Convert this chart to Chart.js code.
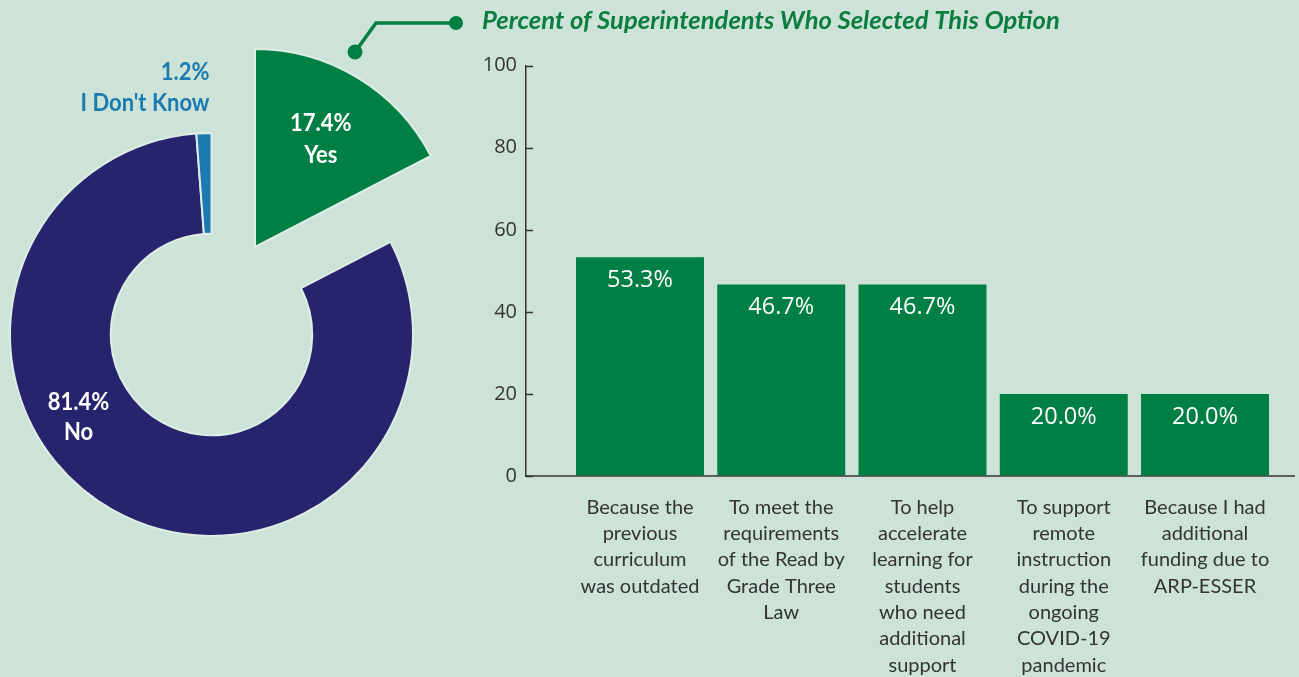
<!DOCTYPE html>
<html>
<head>
<meta charset="utf-8">
<script src="https://cdn.jsdelivr.net/npm/chart.js@4.4.0/dist/chart.umd.min.js"></script>
<style>
  html, body { margin: 0; padding: 0; background: #cde3d8; }
  #wrap { position: relative; width: 1299px; height: 677px; overflow: hidden; }
  canvas { position: absolute; left: 0; top: 0; }
</style>
</head>
<body>
<div id="wrap">
  <canvas id="bars" width="1299" height="677"></canvas>
  <canvas id="ring" width="560" height="677"></canvas>
  <canvas id="wedge" width="560" height="677"></canvas>
</div>
<script>
// survey answers (left) and reasons for the new curriculum (right)
const answers = ["Yes", "No", "I Don't Know"];
const answerShares = [17.4, 81.4, 1.2];

const reasons = [
  ["Because the", "previous", "curriculum", "was outdated"],
  ["To meet the", "requirements", "of the Read by", "Grade Three", "Law"],
  ["To help", "accelerate", "learning for", "students", "who need", "additional", "support"],
  ["To support", "remote", "instruction", "during the", "ongoing", "COVID-19", "pandemic"],
  ["Because I had", "additional", "funding due to", "ARP-ESSER"]
];
const reasonShares = [53.3, 46.7, 46.7, 20.0, 20.0];
const yTicks = [0, 20, 40, 60, 80, 100];

const GREEN = "#007f45";
const NAVY = "#25246c";
const BLUE = "#1b7ab0";
const EDGE = "#deede5";
const INK = "#333333";

const pct = v => v.toFixed(1) + "%";

// writes "value% / name" next to each slice; Lato squeezed a little for a condensed look
function sliceLabels(spots) {
  return {
    id: "sliceLabels",
    afterDatasetsDraw(chart) {
      const ctx = chart.ctx;
      const arcs = chart.getDatasetMeta(0).data;
      const squeeze = 0.88;
      spots.forEach((s, i) => {
        if (!s) return;
        const arc = arcs[i];
        let x, y;
        if (s.mid) {
          const a = (arc.startAngle + arc.endAngle) / 2;
          x = arc.x + Math.cos(a) * arc.outerRadius * s.mid;
          y = arc.y + Math.sin(a) * arc.outerRadius * s.mid;
        } else {
          x = arc.x + s.dx;
          y = arc.y + s.dy;
        }
        ctx.save();
        ctx.translate(x, y);
        ctx.scale(squeeze, 1);
        ctx.font = 'bold 25px "Lato", sans-serif';
        ctx.textBaseline = "middle";
        ctx.fillStyle = s.color;
        ctx.textAlign = s.align;
        ctx.fillText(pct(answerShares[i]), 0, -s.gap / 2);
        ctx.fillText(answers[i], 0, s.gap / 2);
        ctx.restore();
      });
    }
  };
}

// donut with the No and I Don't Know slices
new Chart(document.getElementById("ring"), {
  type: "doughnut",
  data: {
    labels: answers,
    datasets: [{
      data: answerShares,
      backgroundColor: ["rgba(0,0,0,0)", NAVY, BLUE],
      borderColor: EDGE,
      borderWidth: [0, 2, 2]
    }]
  },
  options: {
    responsive: false,
    animation: false,
    radius: 201.5,
    cutout: "50%",
    layout: { padding: { right: 137, bottom: 8 } },
    plugins: { legend: { display: false }, tooltip: { enabled: false } }
  },
  plugins: [sliceLabels([
    null,
    { dx: -133, dy: 82, gap: 30, align: "center", color: "#ffffff" },
    { dx: -2, dy: -247, gap: 31, align: "right", color: BLUE }
  ])]
});

// the Yes slice, pulled out of the ring as a full wedge
new Chart(document.getElementById("wedge"), {
  type: "pie",
  data: {
    labels: answers,
    datasets: [{
      data: answerShares,
      backgroundColor: [GREEN, "rgba(0,0,0,0)", "rgba(0,0,0,0)"],
      borderColor: EDGE,
      borderWidth: [2, 0, 0]
    }]
  },
  options: {
    responsive: false,
    animation: false,
    radius: 198,
    layout: { padding: { right: 50, bottom: 183 } },
    plugins: { legend: { display: false }, tooltip: { enabled: false } }
  },
  plugins: [sliceLabels([
    { mid: 0.64, gap: 32, align: "center", color: "#ffffff" },
    null,
    null
  ])]
});

const barValues = {
  id: "barValues",
  afterDatasetsDraw(chart) {
    const ctx = chart.ctx;
    ctx.save();
    ctx.font = '23.5px "Open Sans", sans-serif';
    ctx.fillStyle = "#ffffff";
    ctx.textAlign = "center";
    ctx.textBaseline = "middle";
    chart.getDatasetMeta(0).data.forEach((bar, i) => {
      ctx.fillText(pct(reasonShares[i]), bar.x, bar.y + 23);
    });
    ctx.restore();
  }
};

// short tick marks pointing into the plot from the y axis
const innerTicks = {
  id: "innerTicks",
  afterDraw(chart) {
    const ctx = chart.ctx;
    const y = chart.scales.y;
    const x0 = chart.chartArea.left;
    ctx.save();
    ctx.strokeStyle = INK;
    ctx.lineWidth = 1.5;
    y.ticks.forEach((t, i) => {
      const py = Math.round(y.getPixelForTick(i)) + 0.5;
      ctx.beginPath();
      ctx.moveTo(x0, py);
      ctx.lineTo(x0 + 7, py);
      ctx.stroke();
    });
    ctx.restore();
  }
};

// callout line from the Yes wedge up to the bar chart heading
const callout = {
  id: "callout",
  afterDraw(chart) {
    const ctx = chart.ctx;
    ctx.save();
    ctx.strokeStyle = GREEN;
    ctx.fillStyle = GREEN;
    ctx.lineWidth = 3.5;
    ctx.beginPath();
    ctx.moveTo(355, 52);
    ctx.lineTo(376, 23);
    ctx.lineTo(456, 23);
    ctx.stroke();
    ctx.beginPath();
    ctx.arc(355, 52, 7.5, 0, Math.PI * 2);
    ctx.arc(456, 23, 7, 0, Math.PI * 2);
    ctx.fill();
    ctx.restore();
  }
};

new Chart(document.getElementById("bars"), {
  type: "bar",
  data: {
    datasets: [{
      data: reasonShares.map((v, i) => ({ x: i + 1, y: v })),
      backgroundColor: GREEN,
      categoryPercentage: 1,
      barPercentage: 0.906
    }]
  },
  options: {
    responsive: false,
    animation: false,
    layout: { padding: { left: 482, right: 5 } },
    scales: {
      x: {
        type: "linear",
        offset: false,
        min: 0.193,
        max: 5.63,
        grid: { display: false },
        border: { color: "#5f5f5f", width: 2 },
        ticks: {
          stepSize: 1,
          includeBounds: false,
          autoSkip: false,
          maxRotation: 0,
          padding: 10,
          color: INK,
          font: { family: "Lato", size: 20, lineHeight: 1.317 },
          callback: v => Number.isInteger(v) ? reasons[v - 1] : ""
        },
        afterFit: s => { s.height = 201; }
      },
      y: {
        min: yTicks[0],
        max: yTicks[yTicks.length - 1],
        grid: { drawOnChartArea: false, drawTicks: false },
        border: { color: INK, width: 1.5 },
        ticks: {
          stepSize: yTicks[1] - yTicks[0],
          padding: 9,
          color: INK,
          font: { family: "Open Sans", size: 20 }
        },
        afterFit: s => { s.width = 44; }
      }
    },
    plugins: {
      legend: { display: false },
      tooltip: { enabled: false },
      title: {
        display: true,
        text: "Percent of Superintendents Who Selected This Option",
        align: "start",
        color: "#0b7d40",
        font: { family: "Lato", size: 25.6, weight: "bold", style: "italic" },
        padding: { top: 5, bottom: 30 }
      }
    }
  },
  plugins: [barValues, innerTicks, callout]
});
</script>
</body>
</html>
